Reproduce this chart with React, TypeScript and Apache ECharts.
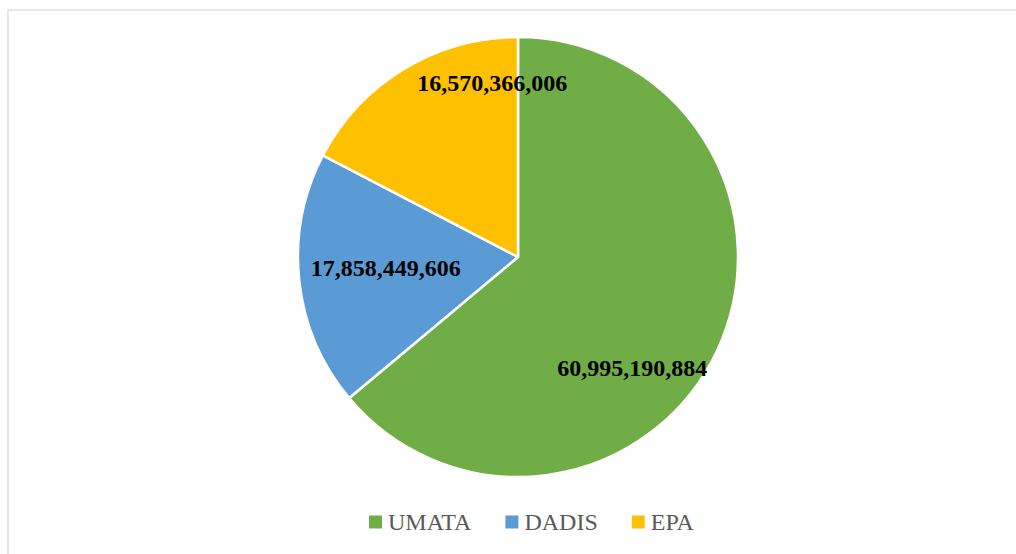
import React, { useEffect, useRef } from "react";
import * as echarts from "echarts";

const categories = ["UMATA", "DADIS", "EPA"];
const values = [60995190884, 17858449606, 16570366006];
const colors = ["#70AD47", "#5B9BD5", "#FFC000"];

const fmt = (v: number) => v.toLocaleString("en-US");
const SERIF = "Liberation Serif";

export default function App() {
  const ref = useRef<HTMLDivElement>(null);
  useEffect(() => {
    if (!ref.current) return;
    const chart = echarts.init(ref.current, undefined, { renderer: "svg" });
    const labelOffsets: Record<string, number[]> = {
      UMATA: [12, 63],
      DADIS: [-20, -1],
      EPA: [33, -77],
    };
    chart.setOption({
      animation: false,
      backgroundColor: "#ffffff",
      textStyle: { fontFamily: SERIF },
      graphic: [
        {
          type: "rect",
          shape: { x: 8, y: 10, width: 1040, height: 600 },
          style: { fill: "none", stroke: "#e6e6e6", lineWidth: 2 },
          silent: true,
        },
      ],
      legend: {
        left: 362,
        top: 505,
        itemWidth: 15,
        itemHeight: 15,
        itemGap: 32,
        icon: "rect",
        textStyle: {
          fontFamily: SERIF,
          fontSize: 24,
          color: "#595959",
          padding: [0, 0, 0, 0],
        },
        data: categories,
      },
      series: [
        {
          type: "pie",
          center: [518, 257],
          radius: [0, 220],
          startAngle: 90,
          clockwise: true,
          itemStyle: { borderColor: "#ffffff", borderWidth: 2.5 },
          label: {
            show: true,
            position: "inside",
            formatter: (p: any) => fmt(p.value),
            fontFamily: SERIF,
            fontWeight: "bold",
            fontSize: 24,
            color: "#000000",
          },
          labelLine: { show: false },
          emphasis: { disabled: true },
          data: categories.map((name, i) => ({
            name,
            value: values[i],
            itemStyle: { color: colors[i] },
            label: { offset: labelOffsets[name] },
          })),
        },
      ],
    });
    return () => chart.dispose();
  }, []);
  return (
    <div
      ref={ref}
      style={{ position: "fixed", left: 0, top: 0, width: 1016, height: 554 }}
    />
  );
}
